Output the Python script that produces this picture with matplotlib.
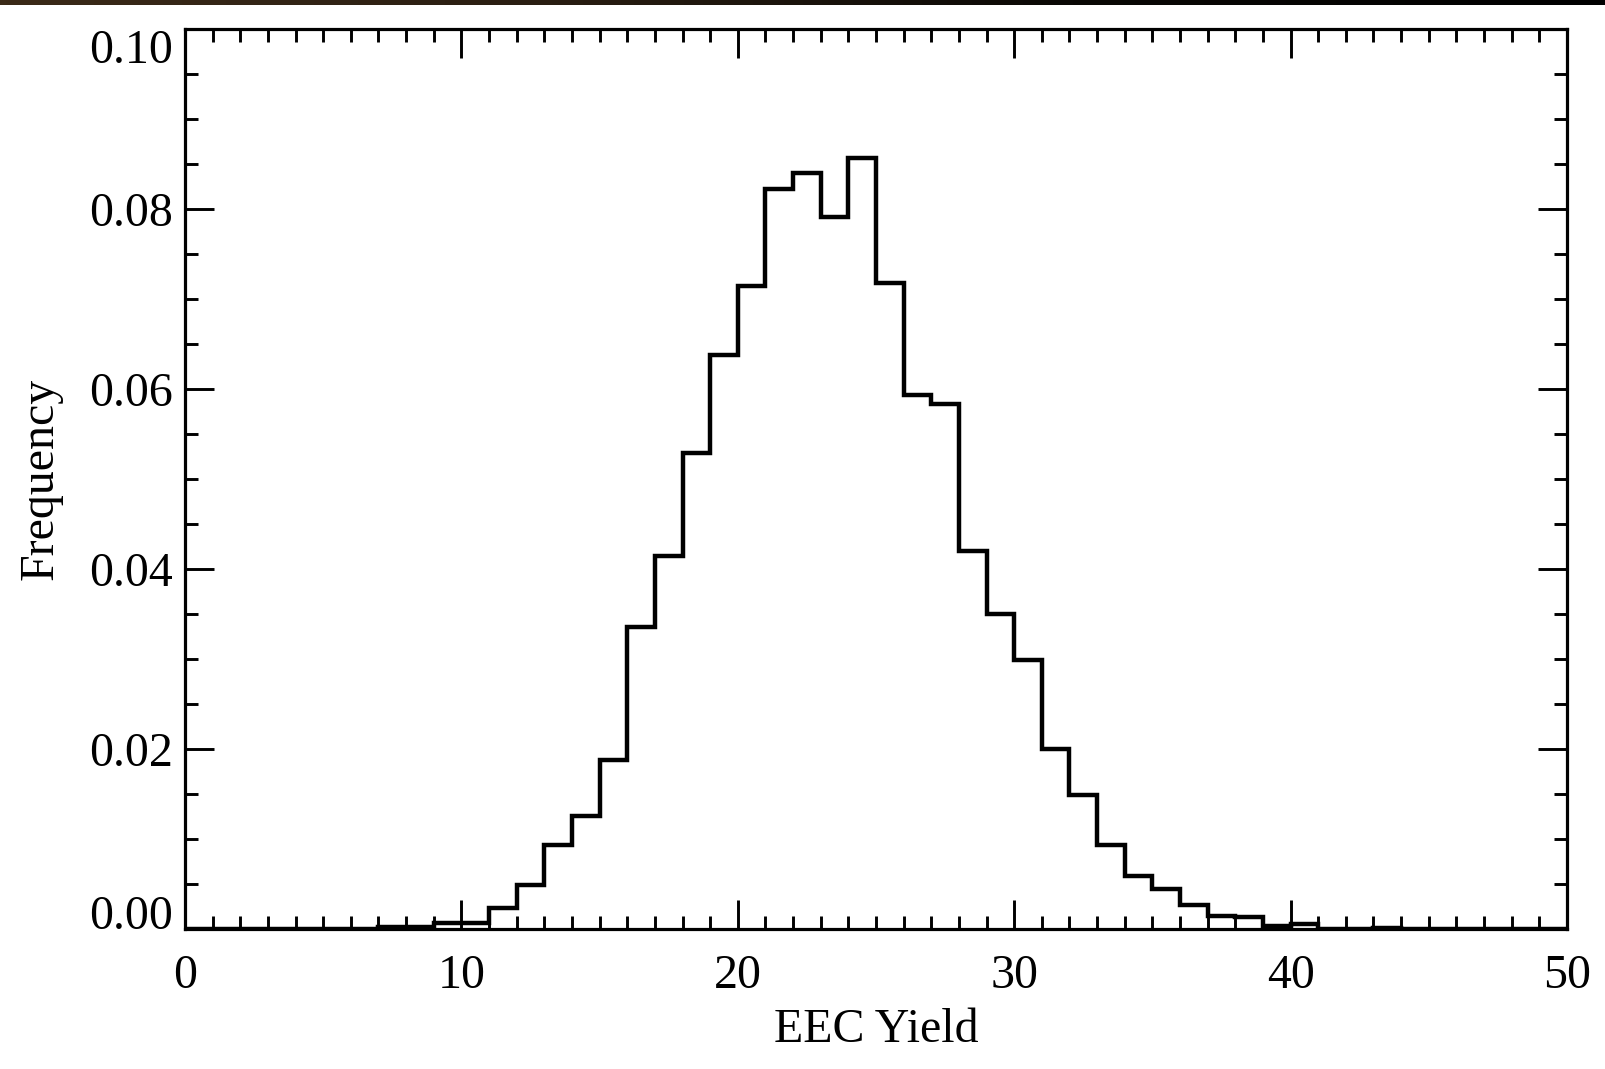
import numpy as np
import matplotlib
matplotlib.use("Agg")
import matplotlib.pyplot as plt
from matplotlib.colors import LinearSegmentedColormap

# EEC yield histogram, unit-width bins from 0 to 50
bin_edges = np.arange(0, 51, 1)
frequency = [
    0.0, 0.0, 0.0, 0.0, 0.0, 0.0, 0.0, 0.0002, 0.0002, 0.0007,
    0.0007, 0.0023, 0.0049, 0.0093, 0.0125, 0.0188, 0.0336, 0.0414, 0.0529, 0.0638,
    0.0714, 0.0822, 0.0840, 0.0791, 0.0857, 0.0718, 0.0593, 0.0583, 0.0420, 0.0350,
    0.0299, 0.0200, 0.0149, 0.0093, 0.0059, 0.0044, 0.0027, 0.0014, 0.0013, 0.0003,
    0.0006, 0.0, 0.0, 0.0001, 0.0, 0.0, 0.0, 0.0, 0.0, 0.0,
]
x_ticks = [0, 10, 20, 30, 40, 50]
y_ticks = [0.00, 0.02, 0.04, 0.06, 0.08, 0.10]

plt.rcParams["font.family"] = ["Liberation Serif", "DejaVu Serif"]
plt.rcParams["font.size"] = 34.5

fig = plt.figure(figsize=(16.06, 10.69), dpi=100)
ax = fig.add_axes([0.1152, 0.1310, 0.8605, 0.8419])

ax.stairs(frequency, bin_edges, color="black", linewidth=3.2)

ax.set_xlim(0, 50)
ax.set_ylim(0, 0.10)
ax.set_xticks(x_ticks)
ax.set_xticklabels([str(v) for v in x_ticks])
ax.set_yticks(y_ticks)
ax.set_yticklabels([f"{v:.2f}" for v in y_ticks])
ax.set_xticks(np.arange(0, 51, 1), minor=True)
ax.set_yticks(np.arange(0, 0.1001, 0.005), minor=True)

ax.tick_params(which="both", direction="in", top=True, right=True, width=2.1, color="black")
ax.tick_params(which="major", length=21)
ax.tick_params(which="minor", length=9.5)
ax.tick_params(axis="x", which="major", pad=18)
ax.tick_params(axis="y", which="major", pad=9)
for spine in ax.spines.values():
    spine.set_linewidth(2.3)

# keep the end labels inside the axis range
ylabels = ax.get_yticklabels()
ylabels[0].set_verticalalignment("baseline")
ylabels[-1].set_verticalalignment("top")

ax.set_xlabel("EEC Yield", labelpad=7)
ax.set_ylabel("Frequency", labelpad=19)

# thin dark band along the top edge
band = fig.add_axes([0, 1 - 5 / 1069, 1, 5 / 1069])
band_cmap = LinearSegmentedColormap.from_list("band", ["#3b2a18", "#2a1e12", "#0a0805", "#000000"])
band.imshow(np.linspace(0, 1, 256).reshape(1, -1), aspect="auto", cmap=band_cmap)
band.axis("off")

fig.savefig("out.png", dpi=100)
